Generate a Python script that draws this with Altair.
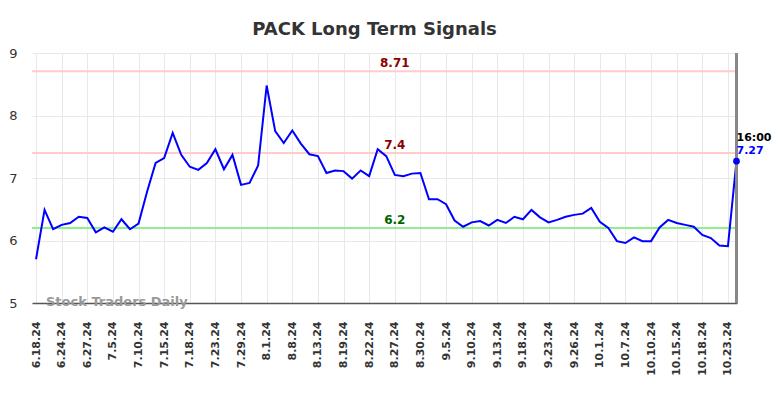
import altair as alt
import pandas as pd

# Signal values, one per trading session (index 0 .. 82)
values = [5.70, 6.49, 6.18, 6.25, 6.28, 6.38, 6.36, 6.13, 6.21, 6.14,
          6.34, 6.18, 6.27, 6.78, 7.24, 7.32, 7.72, 7.37, 7.18, 7.13,
          7.24, 7.46, 7.14, 7.37, 6.89, 6.92, 7.20, 8.48, 7.75, 7.56,
          7.76, 7.55, 7.38, 7.35, 7.08, 7.12, 7.11, 6.99, 7.12, 7.03,
          7.46, 7.35, 7.05, 7.03, 7.07, 7.08, 6.66, 6.66, 6.58, 6.32,
          6.22, 6.29, 6.31, 6.24, 6.33, 6.28, 6.38, 6.34, 6.49, 6.37,
          6.29, 6.33, 6.38, 6.41, 6.43, 6.52, 6.30, 6.20, 5.99, 5.96,
          6.05, 5.99, 5.99, 6.21, 6.33, 6.28, 6.25, 6.22, 6.09, 6.04,
          5.92, 5.91, 7.27]

# Tick labels shown every third session
tick_labels = ["6.18.24", "6.24.24", "6.27.24", "7.5.24", "7.10.24", "7.15.24",
               "7.18.24", "7.23.24", "7.29.24", "8.1.24", "8.8.24", "8.13.24",
               "8.19.24", "8.22.24", "8.27.24", "8.30.24", "9.5.24", "9.10.24",
               "9.13.24", "9.18.24", "9.23.24", "9.26.24", "10.1.24", "10.7.24",
               "10.10.24", "10.15.24", "10.18.24", "10.23.24"]
tick_values = [i * 3 for i in range(len(tick_labels))]
y_ticks = [5, 6, 7, 8, 9]

# Signal levels
levels = [8.71, 7.4, 6.2]
level_line_colors = ["#ffcccc", "#ffcccc", "#90ee90"]
level_text_colors = ["#8b0000", "#8b0000", "#006400"]

last_time = "16:00"
last_value = values[-1]
last_idx = len(values) - 1

df = pd.DataFrame({"idx": list(range(len(values))), "value": values})
lv = pd.DataFrame({"level": levels, "label": [str(v) for v in levels],
                   "lc": level_line_colors, "tc": level_text_colors,
                   "mid": [42] * len(levels)})

label_arr = "[" + ",".join("'" + t + "'" for t in tick_labels) + "]"

xscale = alt.Scale(domain=[-0.47, 82.06], nice=False, zero=False)
yscale = alt.Scale(domain=[5, 9], nice=False, zero=False)

base = alt.Chart(df)

line = base.mark_line(color="#0000ff", strokeWidth=2).encode(
    x=alt.X("idx:Q", scale=xscale, title=None,
            axis=alt.Axis(values=tick_values, tickCount=len(tick_values) + 2,
                          labelExpr=label_arr + "[round(datum.value/3)]",
                          labelAngle=-90, labelFontSize=11, labelFontWeight="bold",
                          labelColor="#333333", labelFont="DejaVu Sans",
                          labelOverlap=False, labelBound=False, labelFlush=False,
                          ticks=False, labelPadding=18,
                          grid=True, gridColor="#e8e8e8", gridWidth=1,
                          domain=True, domainColor="#555555", domainWidth=1.5)),
    y=alt.Y("value:Q", scale=yscale, title=None,
            axis=alt.Axis(values=y_ticks, tickCount=len(y_ticks), format="d",
                          labelFontSize=13,
                          labelColor="#333333", labelFont="DejaVu Sans",
                          labelOverlap=False, labelFlush=False,
                          ticks=False, labelPadding=15, domain=False,
                          grid=True, gridColor="#e8e8e8", gridWidth=1)),
)

level_rules = alt.Chart(lv).mark_rule(strokeWidth=2).encode(
    y=alt.Y("level:Q", scale=yscale),
    color=alt.Color("lc:N", scale=None),
)

level_text = alt.Chart(lv).mark_text(fontSize=12, fontWeight="bold", font="DejaVu Sans",
                                     align="center", baseline="alphabetic", dy=-4).encode(
    x=alt.X("mid:Q", scale=xscale),
    y=alt.Y("level:Q", scale=yscale),
    text="label:N",
    color=alt.Color("tc:N", scale=None),
)

end_rule = alt.Chart(df).mark_rule(color="#888888", strokeWidth=2).encode(
    x=alt.datum(last_idx, scale=xscale),
)

last_df = pd.DataFrame({"idx": [last_idx], "value": [last_value],
                        "vlabel": [str(last_value)], "tlabel": [last_time]})

end_dot = alt.Chart(last_df).mark_point(filled=True, color="#0000ff", size=45, opacity=1).encode(
    x=alt.X("idx:Q", scale=xscale), y=alt.Y("value:Q", scale=yscale))

end_val = alt.Chart(last_df).mark_text(fontSize=11, fontWeight="bold", font="DejaVu Sans",
                                       color="#0000ff", align="left",
                                       baseline="alphabetic", dy=-7).encode(
    x=alt.X("idx:Q", scale=xscale), y=alt.Y("value:Q", scale=yscale), text="vlabel:N")

end_time = alt.Chart(last_df).mark_text(fontSize=11, fontWeight="bold", font="DejaVu Sans",
                                        color="#000000", align="left",
                                        baseline="alphabetic", dy=-20).encode(
    x=alt.X("idx:Q", scale=xscale), y=alt.Y("value:Q", scale=yscale), text="tlabel:N")

watermark = alt.Chart(pd.DataFrame({"t": ["Stock Traders Daily"]})).mark_text(
    fontSize=13, fontWeight="bold", font="DejaVu Sans", color="#999999",
    align="left", baseline="alphabetic").encode(
    x=alt.value(14), y=alt.value(253), text="t:N")

chart = alt.layer(level_rules, line, level_text, end_rule, end_dot, end_val, end_time,
                  watermark).properties(
    width=705, height=250,
    title=alt.TitleParams("PACK Long Term Signals", fontSize=18, fontWeight="bold",
                          font="DejaVu Sans", color="#333333", anchor="middle",
                          dx=-10, offset=8),
    autosize=alt.AutoSizeParams(type="none"),
    padding={"left": 24, "top": 45, "right": 39, "bottom": 80},
).configure_view(stroke=None)

chart.save("out.html", embed_options={"renderer": "svg", "actions": False})
